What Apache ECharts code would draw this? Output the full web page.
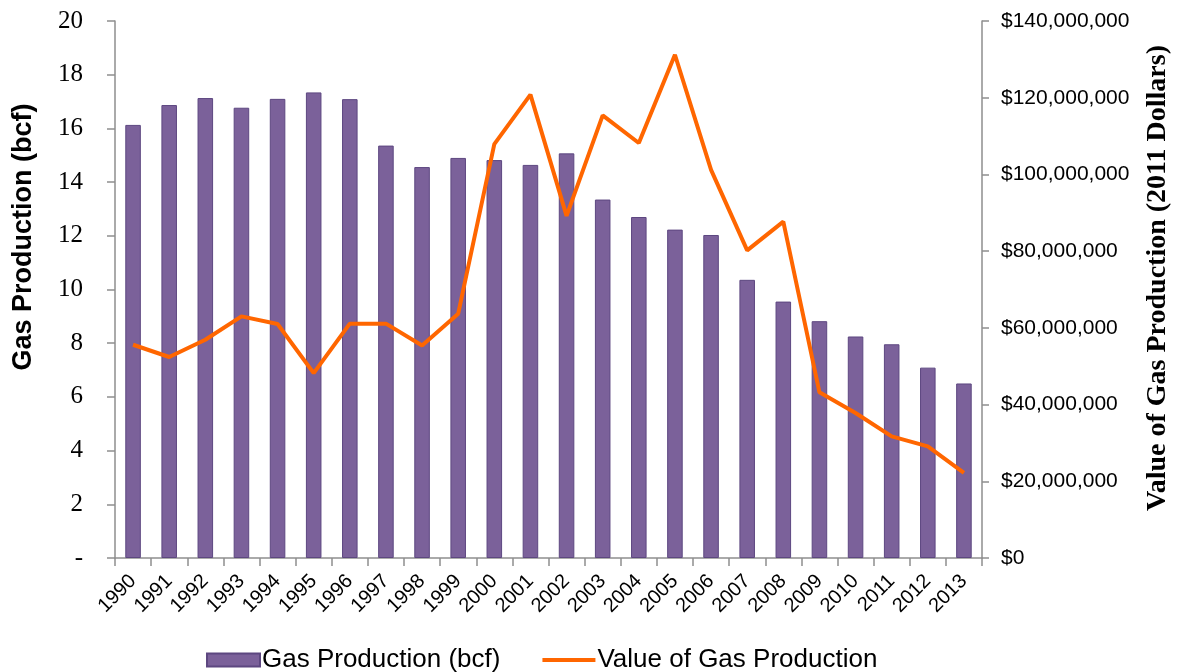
<!DOCTYPE html>
<html>
<head>
<meta charset="utf-8">
<script src="https://cdn.jsdelivr.net/npm/echarts@6/dist/echarts.min.js"></script>
<style>html,body{margin:0;padding:0;background:#fff}#c{width:1177px;height:672px}</style>
</head>
<body>
<div id="c"></div>
<script>
var years = ['1990','1991','1992','1993','1994','1995','1996','1997','1998','1999','2000','2001','2002','2003','2004','2005','2006','2007','2008','2009','2010','2011','2012','2013'];
var gasProduction = [16.13,16.87,17.13,16.77,17.10,17.34,17.09,15.36,14.56,14.90,14.82,14.64,15.07,13.35,12.70,12.23,12.03,10.36,9.55,8.82,8.25,7.96,7.09,6.50];
var gasValue = [55.6,52.4,56.9,63.0,61.0,48.2,61.1,61.1,55.4,63.7,107.9,120.8,89.2,115.4,108.2,131.2,101.2,80.2,87.7,43.2,37.8,31.7,29.1,22.2].map(function(v){return v*1e6;});
var leftTicks = {min:0, max:20, interval:2};
var rightTicks = {min:0, max:140000000, interval:20000000};

var chart = echarts.init(document.getElementById('c'), null, {renderer:'canvas'});
var axisGray = '#8e8e8e';
chart.setOption({
  animation:false,
  backgroundColor:'#fff',
  grid:{left:115, right:195, top:21, bottom:114, containLabel:false},
  legend:{
    left:201, top:642, itemWidth:53, itemHeight:13, itemGap:42,
    textStyle:{fontFamily:'Liberation Sans', fontSize:26, color:'#000', padding:[0,0,0,-3]},
    data:[{name:'Gas Production (bcf)', icon:'rect'},
          {name:'Value of Gas Production', icon:'path://M0,0 H53 V4 H0 Z', itemStyle:{color:'#ff6600'}}]
  },
  xAxis:{
    type:'category', data:years, boundaryGap:true,
    axisLine:{lineStyle:{color:axisGray, width:1.5}},
    axisTick:{show:true, alignWithLabel:false, length:8, lineStyle:{color:axisGray, width:1.5}},
    axisLabel:{rotate:45, interval:0, margin:20, fontFamily:'Liberation Sans', fontSize:20, color:'#000'}
  },
  yAxis:[{
    type:'value', min:leftTicks.min, max:leftTicks.max, interval:leftTicks.interval, position:'left',
    splitLine:{show:false},
    axisLine:{show:true, lineStyle:{color:axisGray, width:1.5}},
    axisTick:{show:true, length:8, lineStyle:{color:axisGray, width:1.5}},
    axisLabel:{margin:32, fontFamily:'Liberation Serif', fontSize:25, color:'#000',
      formatter:function(v){return v===0?'-':String(v);}}
  },{
    type:'value', min:rightTicks.min, max:rightTicks.max, interval:rightTicks.interval, position:'right',
    splitLine:{show:false},
    axisLine:{show:true, lineStyle:{color:axisGray, width:1.5}},
    axisTick:{show:true, length:7, lineStyle:{color:axisGray, width:1.5}},
    axisLabel:{margin:19, fontFamily:'Liberation Sans', fontSize:21, color:'#000',
      formatter:function(v){return '$'+v.toString().replace(/\B(?=(\d{3})+(?!\d))/g, ',');}}
  }],
  graphic:[
    {type:'text', x:24, y:237, rotation:Math.PI/2,
      style:{text:'Gas Production (bcf)', font:'bold 27px "Liberation Sans"', fill:'#000', align:'center', verticalAlign:'middle'}},
    {type:'text', x:1158, y:278, rotation:Math.PI/2,
      style:{text:'Value of Gas Production (2011 Dollars)', font:'bold 28px "Liberation Serif"', fill:'#000', align:'center', verticalAlign:'middle'}}
  ],
  series:[{
    name:'Gas Production (bcf)', type:'bar', yAxisIndex:0, data:gasProduction, barWidth:'43%',
    itemStyle:{color:'#7b619a', borderColor:'#5d4780', borderWidth:1}
  },{
    name:'Value of Gas Production', type:'line', yAxisIndex:1, data:gasValue,
    symbol:'none', lineStyle:{color:'#ff6600', width:4}, itemStyle:{color:'#ff6600'}
  }]
});
</script>
</body>
</html>
